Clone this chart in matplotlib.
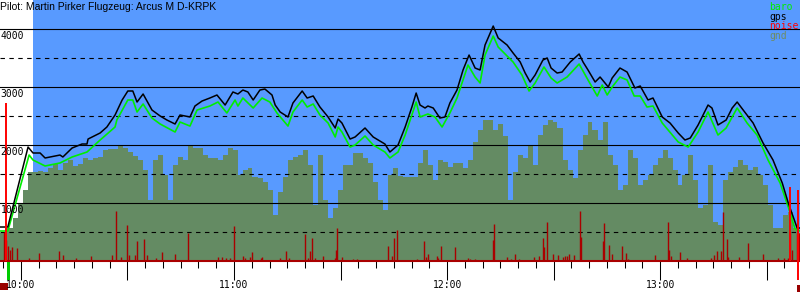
import matplotlib
matplotlib.use('Agg')
import matplotlib.pyplot as plt
from matplotlib.patches import Rectangle
from matplotlib.ticker import MultipleLocator, FuncFormatter
import numpy as np

# time in minutes after 10:00, altitudes in metres
title = 'Pilot: Martin Pirker Flugzeug: Arcus M D-KRPK'
t_start, t_end = -5.9, 219.4
task_start = 3.4

gps_t = [-5.9, -3.7, 2.0, 3.4, 5.4, 6.8, 11.0, 11.8, 14.4, 17.2, 18.6, 18.9, 22.3, 24.2,
         26.5, 28.5, 30.1, 31.5, 32.7, 34.4, 36.9, 39.2, 41.1, 43.4, 44.8, 47.6, 49.0,
         51.0, 53.2, 55.2, 57.5, 59.7, 61.1, 62.5, 63.9, 65.4, 67.3, 68.7, 70.7, 71.6,
         73.0, 75.2, 76.6, 79.2, 80.6, 82.3, 84.2, 86.5, 88.5, 89.3, 90.4, 92.7, 94.1,
         96.9, 99.2, 102.5, 103.9, 106.2, 108.2, 110.1, 111.3, 112.4, 113.8, 114.6,
         116.1, 118.0, 119.4, 120.8, 122.8, 124.5, 126.2, 127.9, 129.3, 130.7, 133.0,
         134.4, 136.9, 138.6, 140.6, 142.0, 143.4, 144.8, 147.0, 148.2, 149.3, 151.0,
         152.4, 154.7, 157.2, 158.3, 159.7, 161.7, 163.1, 165.4, 166.5, 168.7, 170.7,
         172.9, 174.4, 176.6, 178.0, 180.6, 182.8, 185.1, 187.0, 188.5, 190.7, 193.5,
         194.6, 196.3, 198.6, 200.3, 201.7, 203.4, 206.2, 209.0, 211.8, 214.4, 216.1,
         217.5, 218.6, 219.4]
gps_alt = [586, 586, 1965, 1862, 1862, 1776, 1827, 1793, 1948, 2017, 2017, 2103, 2207, 2310,
           2517, 2776, 2931, 2931, 2741, 2879, 2603, 2500, 2431, 2362, 2517, 2483, 2672,
           2758, 2810, 2862, 2689, 2914, 2879, 2948, 2914, 2776, 2948, 2965, 2862, 2689,
           2569, 2483, 2724, 2931, 2810, 2845, 2655, 2483, 2293, 2448, 2379, 2103, 2138,
           2293, 2138, 2017, 1879, 2000, 2310, 2655, 2896, 2689, 2638, 2672,
           2638, 2465, 2483, 2724, 2948, 3293, 3551, 3327, 3293, 3724, 4051,
           3845, 3724, 3586, 3431, 3241, 3086, 3207, 3465, 3500, 3327, 3241,
           3258, 3431, 3569, 3431, 3293, 3086, 3172, 3000, 3155, 3327, 3258,
           2983, 3017, 2776, 2810, 2483, 2379, 2207, 2086, 2121, 2345, 2689,
           2638, 2345, 2431, 2638, 2741, 2603, 2379, 2034, 1741, 1345, 1000,
           759, 569, 569]

baro_t = [-5.9, -3.7, 2.3, 3.4, 6.8, 11.0, 14.4, 18.6, 22.3, 26.5, 27.0, 30.1, 31.5, 32.7,
          34.4, 36.9, 39.2, 43.4, 44.8, 47.6, 49.6, 53.2, 55.5, 58.0, 60.3, 61.1, 62.5,
          65.4, 67.9, 70.1, 72.1, 75.2, 76.6, 79.2, 80.6, 82.3, 84.2, 86.5, 88.5, 89.3,
          90.4, 92.7, 94.1, 96.9, 99.2, 102.5, 103.9, 106.2, 108.2, 111.3, 112.4, 114.6,
          116.6, 118.6, 120.8, 122.8, 125.9, 127.9, 129.3, 130.7, 133.0, 134.4, 138.6,
          141.1, 143.1, 144.8, 147.3, 149.3, 151.0, 153.8, 157.2, 159.7, 162.3, 163.7,
          165.1, 166.5, 168.7, 170.7, 172.7, 174.4, 176.3, 178.0, 180.6, 185.1, 187.9,
          190.7, 193.5, 196.3, 198.6, 201.7, 204.5, 207.3, 210.4, 213.8, 216.1, 218.0, 219.4]
baro_alt = [517, 517, 1827, 1741, 1638, 1690, 1793, 1879, 2086, 2310, 2431, 2776, 2776, 2569,
            2707, 2465, 2362, 2224, 2396, 2327, 2603, 2672, 2741, 2552, 2776, 2672, 2810,
            2638, 2810, 2741, 2552, 2327, 2569, 2776, 2655, 2707, 2517, 2379, 2138, 2310,
            2224, 1965, 2000, 2155, 2000, 1879, 1776, 1879, 2172, 2741, 2483, 2534,
            2483, 2310, 2552, 2810, 3379, 3172, 3069, 3551, 3879, 3689, 3431,
            3207, 2931, 3069, 3345, 3155, 3069, 3172, 3396, 3121, 2845, 3034,
            2862, 3000, 3172, 3121, 2845, 2845, 2655, 2672, 2379, 2052, 1965,
            2224, 2569, 2172, 2293, 2638, 2379, 2172, 1741, 1345, 931, 552, 517]

# ground elevation, evenly sampled over the whole time range
gnd_alt = [483, 483, 569, 741, 1000, 1224, 1534, 1534, 1552, 1534, 1603, 1672, 1569, 1690,
           1741, 1638, 1672, 1776, 1741, 1776, 1793, 1914, 1931, 1931, 2000, 1948, 1879,
           1810, 1741, 1569, 1052, 1741, 1828, 1483, 1052, 1655, 1793, 1741, 1983, 1948,
           1948, 1828, 1776, 1776, 1741, 1828, 1948, 1914, 1483, 1569, 1603, 1448, 1431,
           1362, 1224, 793, 1190, 1448, 1741, 1793, 1828, 1914, 1655, 966, 1828, 1052,
           741, 914, 1224, 1655, 1655, 1862, 1862, 1776, 1690, 1362, 1052, 879, 1483,
           1603, 1466, 1448, 1448, 1448, 1690, 1914, 1655, 1397, 1741, 1707, 1621, 1690,
           1690, 1603, 1741, 2052, 2259, 2431, 2431, 2259, 2362, 2155, 1052, 1534, 1828,
           1776, 2000, 1655, 2172, 2345, 2431, 2396, 2293, 1741, 1569, 1431, 1914, 2172,
           2396, 2259, 2086, 2396, 1828, 1655, 1224, 1310, 1914, 1776, 1310, 1397, 1483,
           1655, 1776, 1914, 1776, 1569, 1310, 1483, 1828, 1397, 914, 966, 1655, 672,
           621, 1397, 1534, 1621, 1741, 1655, 1569, 1621, 1483, 1310, 966, 569, 569, 793,
           845, 569, 483]

noise_t = [-4.8, -4.2, -3.7, -3.1, -2.5, -1.1, 2.3, 5.1, 10.7, 11.8, 15.5, 19.7, 25.6, 26.8,
           28.2, 29.9, 30.4, 32.1, 32.7, 34.6, 35.5, 38.0, 39.7, 43.4, 47.0, 55.5, 56.6,
           57.7, 58.9, 60.0, 62.5, 63.1, 64.5, 65.1, 67.6, 67.9, 73.0, 74.6, 75.5, 80.0,
           80.8, 81.4, 82.0, 82.8, 85.1, 88.5, 88.7, 89.0, 90.4, 93.5, 94.6, 103.4, 104.5,
           105.1, 105.9, 111.6, 113.5, 114.1, 114.6, 117.2, 117.5, 118.3, 122.3, 125.9,
           126.5, 127.9, 133.0, 133.2, 136.9, 138.0, 139.2, 140.3, 144.5, 145.9, 147.0,
           147.3, 148.2, 149.9, 151.3, 152.7, 153.2, 153.8, 154.4, 155.8, 157.5, 157.7,
           163.9, 164.2, 165.6, 166.5, 169.3, 170.4, 171.0, 178.6, 182.3, 182.5, 183.1,
           185.6, 187.6, 194.4, 195.2, 196.1, 197.2, 197.7, 198.9, 199.2, 202.3, 204.8,
           209.0, 213.2, 214.9, 216.1, 216.6, 217.2, 218.6, 219.1]
noise_alt = [500, 362, 259, 190, 241, 224, 52, 138, 172, 103, 52, 86, 103, 862,
             69, 621, 103, 103, 345, 379, 103, 52, 155, 121, 483, 69, 69,
             52, 52, 603, 86, 52, 69, 155, 52, 69, 52, 172, 52, 466,
             52, 172, 397, 52, 86, 52, 190, 569, 69, 34, 34, 259, 86,
             397, 534, 34, 345, 69, 121, 86, 52, 259, 241, 52,
             34, 34, 362, 638, 69, 34, 121, 34, 69, 86, 397,
             241, 672, 121, 103, 69, 86, 86, 121, 103, 862, 414,
             345, 655, 276, 121, 259, 138, 34, 103, 672, 190, 86,
             155, 52, 52, 103, 172, 172, 845, 379, 69, 69, 310,
             121, 52, 52, 52, 483, 190, 483, 483]

# bright red engine-noise peaks
peak_t = [-4.2, 216.6, 218.9]
peak_lo = [0, 0, -330]
peak_hi = [2724, 1276, 1224]

blue = '#589aff'
gnd_color = '#648b63'
dark_red = '#aa0000'

fig = plt.figure(figsize=(8, 3), dpi=100)
ax = fig.add_axes([0, 39 / 300, 1, 261 / 300])
ax.set_xlim(t_start, t_end)
ax.set_ylim(0, 4500)
ax.set_facecolor('white')
ax.axvspan(task_start, t_end, color=blue, lw=0, zorder=0)

gnd_t = np.linspace(t_start, t_end, len(gnd_alt))
ax.fill_between(gnd_t, 0, gnd_alt, step='mid', color=gnd_color, lw=0, zorder=1)

for v in [1000, 2000, 3000, 4000]:
    ax.axhline(v, color='black', lw=0.8, zorder=2)
    ax.text(0.001, v - 40, str(v), transform=ax.get_yaxis_transform(), ha='left', va='top',
            fontsize=7, family='DejaVu Sans Mono', zorder=8)
for v in [500, 1500, 2500, 3500]:
    ax.axhline(v, color='black', lw=0.8, ls=(0, (4, 4)), zorder=2)

ax.vlines(noise_t, 0, noise_alt, color=dark_red, lw=1.0, zorder=3)
ax.plot(baro_t, baro_alt, color='#00ee00', lw=1.2, zorder=5)
ax.plot(gps_t, gps_alt, color='black', lw=1.1, zorder=6)
ax.vlines(peak_t, peak_lo, peak_hi, color='red', lw=1.4, zorder=7, clip_on=False)

# takeoff / landing markers below the axis
ax.add_patch(Rectangle((-3.9, -330), 0.8, 330, color='#00cc00', lw=0, clip_on=False))
ax.add_patch(Rectangle((-5.9, -500), 2.2, 120, color='#990000', lw=0, clip_on=False))
ax.add_patch(Rectangle((218.6, -530), 0.8, 120, color='#990000', lw=0, clip_on=False))

for s in ['top', 'left', 'right']:
    ax.spines[s].set_visible(False)
ax.spines['bottom'].set_color(dark_red)
ax.spines['bottom'].set_linewidth(1.5)
ax.set_yticks([])
ax.xaxis.set_major_locator(MultipleLocator(30))
ax.xaxis.set_minor_locator(MultipleLocator(5))
ax.xaxis.set_major_formatter(FuncFormatter(
    lambda v, p: f'{10 + int(round(v)) // 60}:00' if int(round(v)) % 60 == 0 else ''))
ax.tick_params(axis='x', which='major', length=13.5, width=0.75, pad=0.5, labelsize=7)
ax.tick_params(axis='x', which='minor', length=5, width=0.75)
for lab in ax.get_xticklabels():
    lab.set_family('DejaVu Sans Mono')

fig.text(0.0, 1 - 7 / 300, title, ha='left', va='center', fontsize=7.5,
         family='Liberation Sans')
legend = [('baro', '#00ee00'), ('gps', 'black'), ('noise', 'red'), ('gnd', '#6e8c64')]
for i, (name, col) in enumerate(legend):
    fig.text(769 / 800, 1 - (7 + 9.7 * i) / 300, name, color=col, ha='left', va='center',
             fontsize=7, family='DejaVu Sans Mono')

fig.savefig('out.png', dpi=100)
